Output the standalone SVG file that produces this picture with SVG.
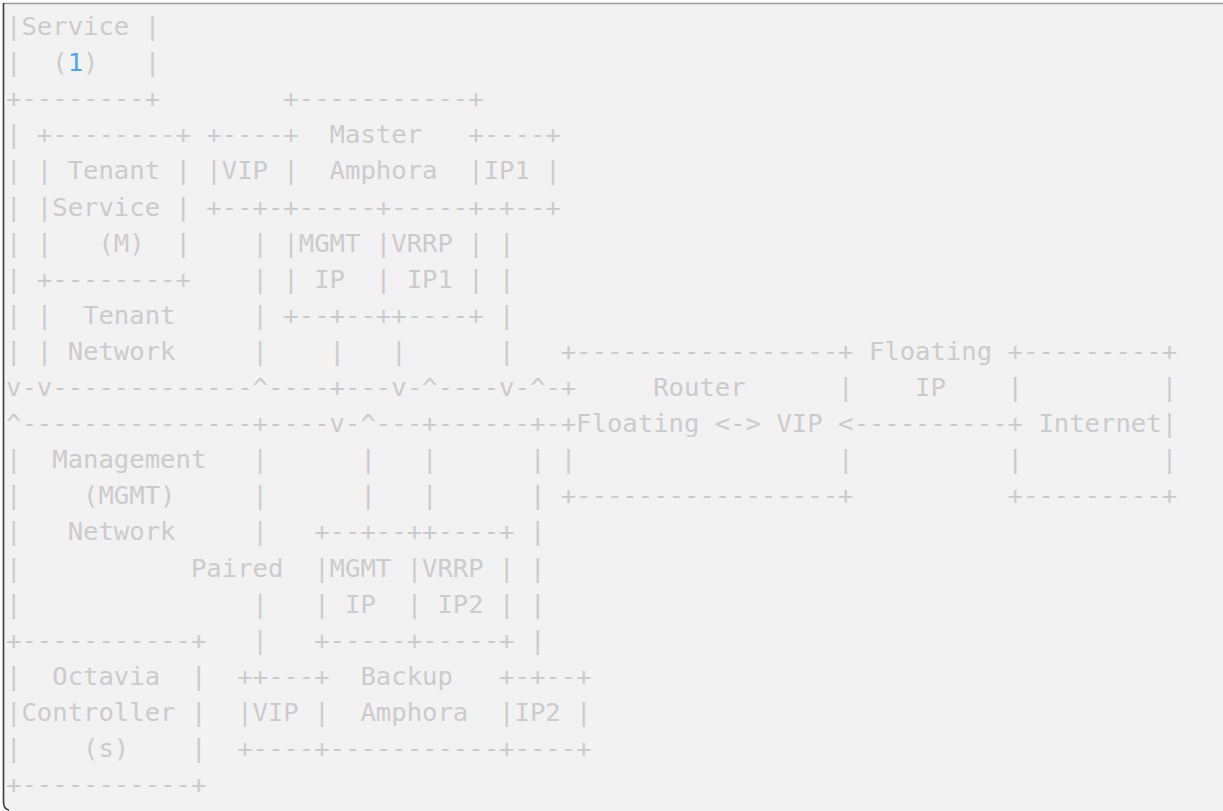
<svg xmlns="http://www.w3.org/2000/svg" width="1223" height="811" viewBox="0 0 1223 811" xml:space="preserve">
<style>
.t text{font-family:"DejaVu Sans Mono","Liberation Mono",monospace;font-size:25.6px;fill:#cbcbcb;white-space:pre}
.n{fill:#4aa6f2}
</style>
<rect x="0" y="0" width="1223" height="811" fill="#ffffff"/>
<rect x="3" y="3" width="1230" height="820" rx="5" fill="#f2f2f2"/>
<line x1="3" y1="3.5" x2="1223" y2="3.5" stroke="#9a9a9a" stroke-width="1.5"/>
<path d="M3.5,3 V802 Q3.5,809 9,810" fill="none" stroke="#3a3a3a" stroke-width="1.6"/>
<g id="ascii-diagram" class="t">
<text x="6" y="35" xml:space="preserve">|Service |</text>
<text x="6" y="71.1" xml:space="preserve">|  (<tspan class="n">1</tspan>)   |</text>
<text x="6" y="107.2" xml:space="preserve">+--------+        +-----------+</text>
<text x="6" y="143.3" xml:space="preserve">| +--------+ +----+  Master   +----+</text>
<text x="6" y="179.4" xml:space="preserve">| | Tenant | |VIP |  Amphora  |IP1 |</text>
<text x="6" y="215.5" xml:space="preserve">| |Service | +--+-+-----+-----+-+--+</text>
<text x="6" y="251.6" xml:space="preserve">| |   (M)  |    | |MGMT |VRRP | |</text>
<text x="6" y="287.7" xml:space="preserve">| +--------+    | | IP  | IP1 | |</text>
<text x="6" y="323.8" xml:space="preserve">| |  Tenant     | +--+--++----+ |</text>
<text x="6" y="359.9" xml:space="preserve">| | Network     |    |   |      |   +-----------------+ Floating +---------+</text>
<text x="6" y="396" xml:space="preserve">v-v-------------^----+---v-^----v-^-+     Router      |    IP    |         |</text>
<text x="6" y="432.1" xml:space="preserve">^---------------+----v-^---+------+-+Floating &lt;-&gt; VIP &lt;----------+ Internet|</text>
<text x="6" y="468.2" xml:space="preserve">|  Management   |      |   |      | |                 |          |         |</text>
<text x="6" y="504.3" xml:space="preserve">|    (MGMT)     |      |   |      | +-----------------+          +---------+</text>
<text x="6" y="540.4" xml:space="preserve">|   Network     |   +--+--++----+ |</text>
<text x="6" y="576.5" xml:space="preserve">|           Paired  |MGMT |VRRP | |</text>
<text x="6" y="612.6" xml:space="preserve">|               |   | IP  | IP2 | |</text>
<text x="6" y="648.7" xml:space="preserve">+-----------+   |   +-----+-----+ |</text>
<text x="6" y="684.8" xml:space="preserve">|  Octavia  |  ++---+  Backup   +-+--+</text>
<text x="6" y="720.9" xml:space="preserve">|Controller |  |VIP |  Amphora  |IP2 |</text>
<text x="6" y="757" xml:space="preserve">|    (s)    |  +----+-----------+----+</text>
<text x="6" y="793.1" xml:space="preserve">+-----------+</text>
</g>
</svg>
